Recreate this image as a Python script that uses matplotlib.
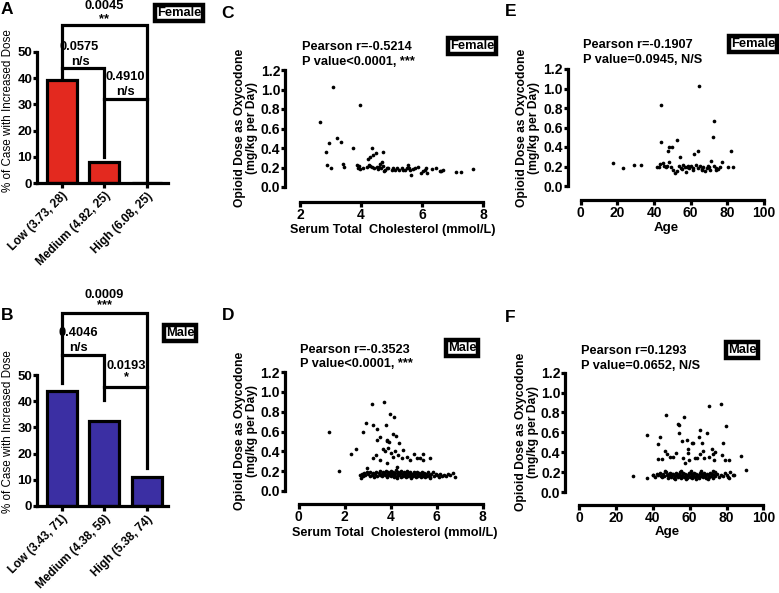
import matplotlib
matplotlib.use("Agg")
import matplotlib.pyplot as plt
from matplotlib.transforms import ScaledTranslation

plt.rcParams['font.family'] = ['Liberation Sans', 'DejaVu Sans']
plt.rcParams['font.weight'] = 'bold'

W, H = 779, 593
fig = plt.figure(figsize=(W / 100, H / 100), dpi=100)

# ---------------- data ----------------
female_groups = ["Low (3.73, 28)", "Medium (4.82, 25)", "High (6.08, 25)"]
female_pct = [39.5, 8.0, 0.0]
male_groups = ["Low (3.43, 71)", "Medium (4.38, 59)", "High (5.38, 74)"]
male_pct = [44.0, 32.5, 11.0]

# C: female cholesterol vs dose
c_chol = [2.66, 3.07, 2.84, 2.96, 2.90, 3.03, 3.21, 3.34, 3.40, 3.44, 3.75, 3.97, 3.88, 3.91,
          3.97, 4.19, 4.22, 4.30, 4.36, 4.39, 4.48, 4.30, 4.35, 4.43, 4.51, 4.60, 4.65, 4.68,
          4.73, 4.73, 4.79, 4.84, 4.90, 5.00, 5.06, 5.17, 5.26, 5.33, 5.44, 5.50, 5.55, 5.61,
          5.64, 5.69, 5.77, 5.88, 5.96, 6.04, 6.13, 6.15, 6.32, 6.46, 6.59, 6.68, 7.11, 7.29,
          7.68, 3.93, 4.05, 4.25, 4.55, 4.62, 4.77, 5.12, 5.38, 5.58, 6.09, 6.62]
c_dose = [0.665, 1.03, 0.36, 0.45, 0.226, 0.195, 0.50, 0.46, 0.24, 0.21, 0.40, 0.84, 0.226, 0.20,
          0.185, 0.205, 0.29, 0.31, 0.40, 0.33, 0.35, 0.22, 0.205, 0.19, 0.205, 0.21, 0.19, 0.26,
          0.36, 0.22, 0.17, 0.19, 0.20, 0.17, 0.19, 0.19, 0.17, 0.19, 0.17, 0.20, 0.23, 0.17,
          0.12, 0.18, 0.19, 0.21, 0.145, 0.16, 0.20, 0.145, 0.18, 0.20, 0.165, 0.17, 0.155, 0.15,
          0.185, 0.215, 0.20, 0.225, 0.18, 0.24, 0.165, 0.175, 0.175, 0.19, 0.175, 0.16]

# E: female age vs dose
e_age = [17.8, 23.1, 29.1, 33.1, 44.0, 44.0, 41.5, 42.5, 43.3, 44.7, 45.6, 46.5, 47.8, 48.2,
         50.0, 48.4, 49.1, 50.5, 51.5, 52.4, 52.7, 53.5, 54.2, 54.7, 56.0, 56.9, 57.5, 58.4,
         59.3, 60.2, 61.5, 62.0, 62.7, 63.8, 64.7, 63.8, 65.1, 66.0, 66.9, 67.8, 68.7, 69.6,
         70.5, 71.3, 72.0, 72.9, 72.7, 73.8, 74.9, 76.0, 77.1, 80.2, 82.2, 83.1,
         58.0, 61.0, 66.0, 70.0, 74.0, 47.0, 55.0]
e_dose = [0.24, 0.18, 0.22, 0.215, 0.83, 0.455, 0.19, 0.19, 0.23, 0.24, 0.205, 0.19, 0.36, 0.40,
          0.40, 0.25, 0.19, 0.16, 0.13, 0.155, 0.47, 0.205, 0.30, 0.18, 0.22, 0.20, 0.145, 0.21,
          0.18, 0.205, 0.165, 0.33, 0.215, 0.36, 1.03, 0.18, 0.205, 0.165, 0.20, 0.155, 0.18, 0.205,
          0.165, 0.26, 0.505, 0.665, 0.205, 0.18, 0.17, 0.19, 0.25, 0.20, 0.36, 0.20,
          0.19, 0.18, 0.17, 0.19, 0.16, 0.21, 0.175]

# D: male cholesterol vs dose
d_chol = [1.30, 1.75, 2.28, 2.49, 2.67, 2.72, 2.80, 2.91, 2.86, 2.99, 3.19, 3.23, 3.41, 3.71,
          3.78, 3.99, 4.14, 3.83, 3.75, 3.42, 3.54, 3.86, 3.94, 4.12, 4.23, 4.38, 3.25, 3.36,
          3.54, 3.68, 3.90, 4.00, 4.12, 4.19, 4.33, 4.48, 4.55, 4.70, 4.84, 5.01, 5.13, 5.28,
          5.39, 5.42, 5.71, 3.83, 4.26,
          2.75, 2.80, 2.88, 2.95, 3.02, 3.08, 3.12, 3.18, 3.22, 3.28, 3.32, 3.38, 3.42, 3.47,
          3.52, 3.55, 3.60, 3.64, 3.68, 3.72, 3.75, 3.80, 3.83, 3.86, 3.90, 3.93, 3.97, 4.00,
          4.03, 4.06, 4.10, 4.13, 4.16, 4.20, 4.23, 4.26, 4.30, 4.33, 4.36, 4.40, 4.43, 4.46,
          4.50, 4.53, 4.56, 4.60, 4.63, 4.66, 4.70, 4.73, 4.76, 4.80, 4.83, 4.86, 4.90, 4.93,
          4.96, 5.00, 5.03, 5.06, 5.10, 5.13, 5.16, 5.20, 5.23, 5.26, 5.30, 5.33, 5.36, 5.40,
          5.43, 5.46, 5.50, 5.53, 5.56, 5.60, 5.65, 5.70, 5.76, 5.82, 5.88, 5.95, 6.02, 6.08,
          6.15, 6.22, 6.30, 6.40, 6.50, 6.58, 6.70, 6.81, 4.28, 4.90, 5.70]
d_dose = [0.595, 0.205, 0.375, 0.42, 0.16, 0.135, 0.595, 0.69, 0.18, 0.23, 0.875, 0.665, 0.63, 0.895,
          0.67, 0.78, 0.75, 0.515, 0.40, 0.515, 0.54, 0.50, 0.495, 0.57, 0.555, 0.48, 0.33, 0.365,
          0.31, 0.42, 0.43, 0.38, 0.345, 0.405, 0.365, 0.335, 0.41, 0.345, 0.31, 0.37, 0.33, 0.33,
          0.37, 0.31, 0.335, 0.28, 0.245,
          0.17, 0.15, 0.16, 0.19, 0.17, 0.15, 0.19, 0.16, 0.18, 0.14, 0.17, 0.19, 0.15, 0.18,
          0.16, 0.20, 0.17, 0.15, 0.19, 0.18, 0.16, 0.20, 0.14, 0.17, 0.19, 0.16, 0.18, 0.15,
          0.20, 0.17, 0.19, 0.14, 0.16, 0.18, 0.21, 0.15, 0.17, 0.19, 0.16, 0.18, 0.14, 0.20,
          0.17, 0.15, 0.19, 0.16, 0.18, 0.14, 0.17, 0.20, 0.15, 0.18, 0.16, 0.19, 0.14, 0.17,
          0.15, 0.19, 0.16, 0.18, 0.14, 0.17, 0.19, 0.15, 0.18, 0.16, 0.14, 0.17, 0.19, 0.15,
          0.18, 0.16, 0.14, 0.17, 0.15, 0.19, 0.16, 0.14, 0.17, 0.19, 0.15, 0.17, 0.16, 0.14,
          0.17, 0.15, 0.16, 0.15, 0.17, 0.16, 0.18, 0.14, 0.13, 0.13, 0.13]

# F: male age vs dose
f_age = [29.0, 36.6, 37.0, 39.9, 43.8, 42.8, 42.9, 44.7, 47.1, 46.7, 47.5, 49.3, 50.7, 52.5,
         53.6, 54.2, 54.3, 55.6, 56.9, 56.2, 57.6, 58.7, 58.9, 59.2, 59.8, 61.0, 62.0, 62.7,
         63.8, 65.2, 65.6, 66.5, 65.6, 67.4, 67.8, 69.2, 70.7, 70.7, 71.9, 72.8, 73.7, 73.2,
         76.8, 77.4, 77.9, 79.7, 79.3, 81.5, 87.7, 90.6, 83.7, 81.5,
         43, 44, 45, 45.5, 46, 47, 47.5, 48, 48.5, 49, 49.5, 50, 50.5, 51, 51.5, 52, 52.5, 53,
         53.5, 54, 54.5, 55, 55.5, 56, 56.5, 57, 57.5, 58, 58.5, 59, 59.5, 60, 60.5, 61, 61.5,
         62, 62.5, 63, 63.5, 64, 64.5, 65, 65.5, 66, 66.5, 67, 67.5, 68, 68.5, 69, 69.5, 70,
         70.5, 71, 71.5, 72, 72.5, 73, 73.5, 74, 75, 76, 77, 78, 79, 80, 81, 82, 84, 40, 41,
         42, 44.5, 46.5, 52.2, 55.2, 57.8, 60.8, 63.2, 66.2, 69.8, 72.8, 58.3, 61.7, 64.8,
         53.8, 50.2]
f_dose = [0.16, 0.57, 0.14, 0.17, 0.55, 0.48, 0.33, 0.33, 0.775, 0.415, 0.38, 0.355, 0.355, 0.395,
          0.68, 0.67, 0.59, 0.51, 0.75, 0.34, 0.295, 0.52, 0.43, 0.395, 0.32, 0.49, 0.49, 0.34,
          0.345, 0.555, 0.625, 0.49, 0.38, 0.415, 0.345, 0.59, 0.87, 0.355, 0.43, 0.38, 0.405, 0.32,
          0.89, 0.37, 0.49, 0.66, 0.32, 0.32, 0.36, 0.22, 0.17, 0.14,
          0.17, 0.19, 0.15, 0.18, 0.16, 0.20, 0.17, 0.14, 0.18, 0.16, 0.19, 0.15, 0.17, 0.18,
          0.14, 0.16, 0.19, 0.17, 0.15, 0.18, 0.20, 0.16, 0.14, 0.17, 0.19, 0.15, 0.18, 0.16,
          0.14, 0.17, 0.19, 0.15, 0.18, 0.16, 0.14, 0.17, 0.19, 0.15, 0.18, 0.16, 0.17, 0.14,
          0.19, 0.16, 0.18, 0.15, 0.17, 0.19, 0.16, 0.14, 0.18, 0.17, 0.15, 0.19, 0.16, 0.18,
          0.14, 0.17, 0.20, 0.16, 0.18, 0.15, 0.17, 0.16, 0.19, 0.17, 0.15, 0.20, 0.17, 0.17,
          0.15, 0.18, 0.16, 0.21, 0.13, 0.21, 0.13, 0.21, 0.13, 0.21, 0.13, 0.21, 0.17, 0.18,
          0.15, 0.16, 0.18]

RED = "#e3291f"
BLUE = "#3b2fa3"
LW = 2.3


def px_axes(l, t, r, b):
    return fig.add_axes([l / W, 1 - b / H, (r - l) / W, (b - t) / H])


def ftext(x, y, s, **kw):
    kw.setdefault('fontweight', 'bold')
    return fig.text(x / W, 1 - y / H, s, **kw)


def sex_box(x, y, s, size=9.3):
    ftext(x, y, s, ha='center', va='center', fontsize=size,
          bbox=dict(boxstyle='square,pad=0.16', fc='white', ec='black', lw=3.2))


def bar_panel(t, b, groups, vals, color, brackets, texts):
    ax = px_axes(37, t, 168, b)
    xs = list(range(len(groups)))
    ax.bar(xs, vals, width=0.7, color=color, edgecolor='black', linewidth=LW, zorder=2)
    ax.set_xlim(-0.58, 2.5)
    ax.set_ylim(0, 50)
    ax.set_yticks([0, 10, 20, 30, 40, 50])
    ax.set_xticks(xs)
    ax.set_xticklabels(groups, rotation=45, ha='right', rotation_mode='anchor',
                       fontsize=8.6, fontweight='bold')
    shift = ScaledTranslation(4 / 100, 0, fig.dpi_scale_trans)
    for lab in ax.get_xticklabels():
        lab.set_transform(lab.get_transform() + shift)
    for lab in ax.get_yticklabels():
        lab.set_fontsize(9.5)
        lab.set_fontweight('bold')
    for s in ['top', 'right']:
        ax.spines[s].set_visible(False)
    for s in ['left', 'bottom']:
        ax.spines[s].set_linewidth(LW)
    ax.tick_params(axis='y', width=LW, length=3.0, direction='out', pad=0.5)
    ax.tick_params(axis='x', width=LW, length=3.5, direction='out', pad=1.5)
    ax.patch.set_alpha(0)
    for (x0, x1, y, yl, yr) in brackets:
        ax.plot([x0, x0, x1, x1], [yl, y, y, yr], color='black', lw=LW,
                clip_on=False, solid_joinstyle='miter', zorder=3)
    for (x, y, s) in texts:
        ax.text(x, y, s, ha='center', va='center', fontsize=9.3, fontweight='bold',
                clip_on=False)
    return ax


bar_panel(52, 183, female_groups, female_pct, RED,
          [(0, 2, 60.3, 40.5, 0.3), (0, 1, 43.9, 43.9, 10), (1, 2, 32, 32, 32)],
          [(1.0, 67.5, "0.0045"), (1.0, 62.6, "**"), (0.4, 52, "0.0575"), (0.45, 46.3, "n/s"),
           (1.5, 40.5, "0.4910"), (1.5, 34.8, "n/s")])
bar_panel(375, 506, male_groups, male_pct, BLUE,
          [(0, 2, 73.8, 47, 14.5), (0, 1, 57.6, 57.6, 40.5), (1, 2, 45.4, 45.4, 45.4)],
          [(1.0, 80.5, "0.0009"), (1.0, 76.5, "***"), (0.4, 66, "0.4046"), (0.4, 60.2, "n/s"),
           (1.53, 53.4, "0.0193"), (1.53, 49.2, "*")])

ftext(8, 111, "% of Case with Increased Dose", rotation=90, ha='center', va='center',
      fontsize=8.4, fontweight='normal')
ftext(8, 432, "% of Case with Increased Dose", rotation=90, ha='center', va='center',
      fontsize=8.4, fontweight='normal')
sex_box(179, 13, "Female")
sex_box(180, 333, "Male")


def scatter_panel(l, t, r, b, x, y, xlim, xticks, lpx, bpx):
    ax = px_axes(l, t, r, b)
    ax.scatter(x, y, s=7, color='black', linewidths=0, zorder=3, clip_on=False)
    ax.set_xlim(*xlim)
    ax.set_ylim(0, 1.2)
    ax.set_xticks(xticks)
    ax.set_yticks([0, 0.2, 0.4, 0.6, 0.8, 1.0, 1.2])
    ax.set_yticklabels([f"{v:.1f}" for v in [0, 0.2, 0.4, 0.6, 0.8, 1.0, 1.2]])
    for lab in ax.get_yticklabels():
        lab.set_fontsize(9.3)
        lab.set_fontweight('bold')
    for lab in ax.get_xticklabels():
        lab.set_fontsize(10.3)
        lab.set_fontweight('bold')
    for s in ['top', 'right']:
        ax.spines[s].set_visible(False)
    ax.spines['left'].set_position(('outward', lpx * 0.72))
    ax.spines['bottom'].set_position(('outward', bpx * 0.72))
    for s in ['left', 'bottom']:
        ax.spines[s].set_linewidth(LW)
    ax.tick_params(axis='y', width=LW, length=3.0, direction='out', pad=0.5)
    ax.tick_params(axis='x', width=LW, length=3.5, direction='out', pad=1.0)
    ax.patch.set_alpha(0)
    return ax


YL = "Opioid Dose as Oxycodone\n(mg/kg per Day)"
CHL = "Serum Total  Cholesterol (mmol/L)"

scatter_panel(300, 70, 483, 187, c_chol, c_dose, (2, 8), [2, 4, 6, 8], 15, 15)
scatter_panel(298.7, 372, 482.7, 491, d_chol, d_dose, (0, 8), [0, 2, 4, 6, 8], 14, 13)
scatter_panel(580.7, 69, 764, 186, e_age, e_dose, (0, 100), [0, 20, 40, 60, 80, 100], 13, 14)
scatter_panel(579.3, 372.7, 763.3, 492, f_age, f_dose, (0, 100), [0, 20, 40, 60, 80, 100], 14, 13)

# y labels
for (x, y) in [(246, 128), (246, 431), (528, 128), (527, 432)]:
    ftext(x, y, YL, rotation=90, ha='center', va='center', fontsize=8.7, linespacing=1.0,
          multialignment='center')
# x labels
ftext(393, 230, CHL, ha='center', va='center', fontsize=9.1)
ftext(395, 533, CHL, ha='center', va='center', fontsize=9.1)
ftext(666, 228, "Age", ha='center', va='center', fontsize=9.6)
ftext(667, 532, "Age", ha='center', va='center', fontsize=9.6)

# statistics text
ftext(302, 47, "Pearson r=-0.5214", ha='left', va='center', fontsize=9.2)
ftext(302, 62, "P value<0.0001, ***", ha='left', va='center', fontsize=9.2)
ftext(583, 45, "Pearson r=-0.1907", ha='left', va='center', fontsize=9.2)
ftext(583, 60, "P value=0.0945, N/S", ha='left', va='center', fontsize=9.2)
ftext(300, 350, "Pearson r=-0.3523", ha='left', va='center', fontsize=9.2)
ftext(300, 364, "P value<0.0001, ***", ha='left', va='center', fontsize=9.2)
ftext(581, 351, "Pearson r=0.1293", ha='left', va='center', fontsize=9.2)
ftext(581, 366, "P value=0.0652, N/S", ha='left', va='center', fontsize=9.2)

sex_box(472, 46, "Female")
sex_box(462, 348, "Male")
sex_box(753, 44, "Female")
sex_box(742, 350, "Male")

# panel letters
for (x, y, s) in [(7, 9, "A"), (7, 315, "B"), (228, 14, "C"), (228, 316, "D"),
                  (511, 12, "E"), (510, 318, "F")]:
    ftext(x, y, s, ha='center', va='center', fontsize=12.5)

fig.savefig("out.png", dpi=100)
